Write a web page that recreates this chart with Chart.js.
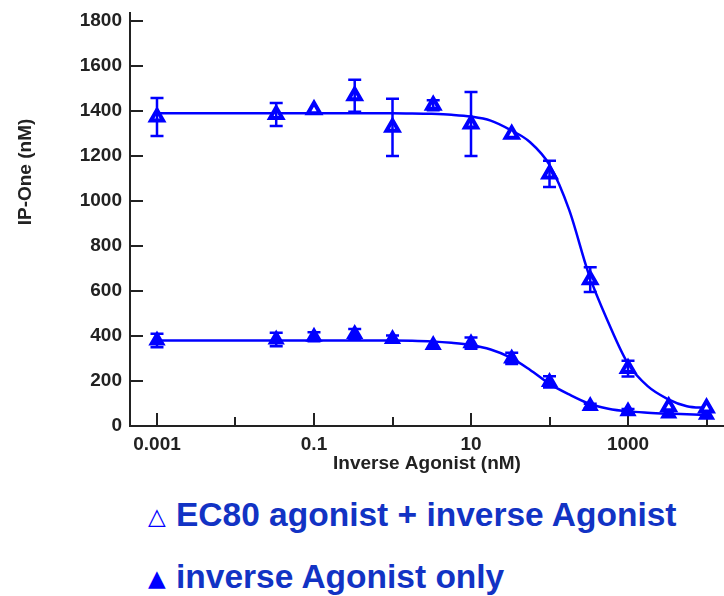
<!DOCTYPE html>
<html>
<head>
<meta charset="utf-8">
<script src="https://cdn.jsdelivr.net/npm/chart.js@4.4.1/dist/chart.umd.min.js"></script>
<style>
  body { margin: 0; background: #fff; }
  #wrap { position: relative; width: 724px; height: 596px; }
  #chart { position: absolute; left: 0; top: 0; }
  .legend {
    position: absolute;
    left: 148px;
    font: bold 33.5px "Liberation Sans", Arial, sans-serif;
    line-height: 40px;
    color: #1233c4;
    white-space: nowrap;
  }
  .legend .mark {
    display: inline-block;
    position: relative;
    top: -2px;
    width: 28px;
    font: 23px "DejaVu Sans", sans-serif;
    color: #0000ff;
  }
</style>
</head>
<body>
<div id="wrap">
  <canvas id="chart" width="724" height="480"></canvas>
  <div class="legend" style="top:495px"><span class="mark">△</span>EC80 agonist + inverse Agonist</div>
  <div class="legend" style="top:557px"><span class="mark">▲</span>inverse Agonist only</div>
</div>
<script>
// ---- data ----
const doses = [0.001, 0.033, 0.1, 0.33, 1, 3.3, 10, 33, 100, 330, 1000, 3300, 10000];

// EC80 agonist + inverse agonist (open triangles)
const withAgonistMean = [1373, 1384, 1405, 1467, 1327, 1425, 1342, 1296, 1120, 650, 255, 85, 80];
const withAgonistErr  = [84, 51, 0, 71, 127, 22, 142, 0, 58, 55, 35, 0, 0];

// inverse agonist only (filled triangles)
const aloneMean = [380, 384, 396, 409, 387, 360, 368, 300, 196, 89, 65, 55, 50];
const aloneErr  = [30, 30, 20, 22, 15, 0, 25, 25, 25, 10, 10, 0, 0];

// fitted curves
const curveDoses     = [0.001, 0.1, 1, 1.78, 3.16, 5.62, 10, 17.8, 31.6, 56.2, 100, 178, 316, 562, 1000, 1778, 3162, 5623, 10000];
const withAgonistFit = [1390, 1390, 1390, 1389, 1387, 1383, 1375, 1357, 1316, 1262, 1160, 960, 675, 460, 277, 177, 121, 88, 80];
const aloneFit       = [380, 380, 380, 379, 376, 370, 360, 340, 305, 250, 187, 140, 100, 77, 65, 59, 55, 52, 49];

const xTickValues = [0.001, 0.01, 0.1, 1, 10, 100, 1000, 10000];
const xTickLabels = ['0.001', '', '0.1', '', '10', '', '1000', ''];
const yTickValues = [0, 200, 400, 600, 800, 1000, 1200, 1400, 1600, 1800];

const BLUE = '#0000ff';
const INK = '#222';
const FONT = '"Liberation Sans", Arial, sans-serif';

const toPoints = (xs, ys) => xs.map((x, i) => ({ x: x, y: ys[i] }));

// error bars on top of the markers
const errorBars = {
    id: 'errorBars',
    afterDatasetsDraw(chart) {
        const { ctx, scales: { x, y } } = chart;
        chart.data.datasets.forEach(ds => {
            if (!ds.errors) return;
            ctx.save();
            ctx.strokeStyle = BLUE;
            ctx.lineWidth = 2.5;
            ds.data.forEach((p, i) => {
                const e = ds.errors[i];
                if (!e) return;
                const px = x.getPixelForValue(p.x);
                const top = y.getPixelForValue(p.y + e);
                const bot = y.getPixelForValue(p.y - e);
                ctx.beginPath();
                ctx.moveTo(px, top); ctx.lineTo(px, bot);
                ctx.moveTo(px - 6.5, top); ctx.lineTo(px + 6.5, top);
                ctx.moveTo(px - 6.5, bot); ctx.lineTo(px + 6.5, bot);
                ctx.stroke();
            });
            ctx.restore();
        });
    }
};

// tick marks pointing into the plot, plus the rotated y title
const axisDecor = {
    id: 'axisDecor',
    beforeDatasetsDraw(chart) {
        const { ctx, scales: { x, y } } = chart;
        ctx.save();
        ctx.strokeStyle = INK;
        ctx.lineWidth = 2;
        ctx.beginPath();
        x.ticks.forEach((t, i) => {
            const px = Math.round(x.getPixelForValue(t.value));
            const len = xTickLabels[i] ? 13 : 9;
            ctx.moveTo(px, x.top);
            ctx.lineTo(px, x.top - len);
        });
        y.ticks.forEach(t => {
            const py = Math.round(y.getPixelForValue(t.value));
            ctx.moveTo(y.right, py);
            ctx.lineTo(y.right + 13, py);
        });
        ctx.stroke();
        ctx.restore();
    },
    afterDraw(chart) {
        const ctx = chart.ctx;
        ctx.save();
        ctx.translate(26, 172);
        ctx.rotate(-Math.PI / 2);
        ctx.font = 'bold 19px ' + FONT;
        ctx.fillStyle = INK;
        ctx.textAlign = 'center';
        ctx.textBaseline = 'middle';
        ctx.fillText('IP-One (nM)', 0, 0);
        ctx.restore();
    }
};

new Chart(document.getElementById('chart'), {
    type: 'scatter',
    data: {
        datasets: [
            {
                label: 'EC80 agonist + inverse Agonist',
                data: toPoints(doses, withAgonistMean),
                errors: withAgonistErr,
                pointStyle: 'triangle',
                pointRadius: 7,
                borderWidth: 4,
                borderColor: BLUE,
                backgroundColor: '#fff',
                showLine: false,
                order: 0
            },
            {
                label: 'inverse Agonist only',
                data: toPoints(doses, aloneMean),
                errors: aloneErr,
                pointStyle: 'triangle',
                pointRadius: 8,
                borderWidth: 2,
                borderColor: BLUE,
                backgroundColor: BLUE,
                showLine: false,
                order: 0
            },
            {
                label: 'fit EC80',
                data: toPoints(curveDoses, withAgonistFit),
                showLine: true,
                pointRadius: 0,
                borderColor: BLUE,
                borderWidth: 2.5,
                cubicInterpolationMode: 'monotone',
                order: 1
            },
            {
                label: 'fit alone',
                data: toPoints(curveDoses, aloneFit),
                showLine: true,
                pointRadius: 0,
                borderColor: BLUE,
                borderWidth: 2.5,
                cubicInterpolationMode: 'monotone',
                order: 1
            }
        ]
    },
    options: {
        responsive: false,
        animation: false,
        devicePixelRatio: 1,
        layout: { autoPadding: false, padding: { top: 13, right: 0, bottom: 0, left: 0 } },
        plugins: {
            legend: { display: false },
            tooltip: { enabled: false }
        },
        scales: {
            x: {
                type: 'logarithmic',
                min: 0.000453,
                max: 16700,
                afterBuildTicks: scale => {
                    scale.ticks = xTickValues.map(v => ({ value: v }));
                },
                afterFit: scale => {
                    scale.height = 54;
                    scale.paddingLeft = 0;
                    scale.paddingRight = 0;
                },
                grid: { display: false, drawTicks: false },
                border: { display: true, color: INK, width: 2 },
                ticks: {
                    autoSkip: false,
                    maxRotation: 0,
                    padding: 7,
                    color: INK,
                    font: { family: FONT, size: 19, weight: 'bold' },
                    callback: (value, index) => xTickLabels[index]
                },
                title: {
                    display: true,
                    text: 'Inverse Agonist (nM)',
                    color: INK,
                    font: { family: FONT, size: 19, weight: 'bold' },
                    padding: { top: 0, bottom: 5 }
                }
            },
            y: {
                min: 0,
                max: 1835,
                afterBuildTicks: scale => {
                    scale.ticks = yTickValues.map(v => ({ value: v }));
                },
                afterFit: scale => {
                    scale.width = 130;
                    scale.paddingTop = 0;
                    scale.paddingBottom = 0;
                },
                grid: { display: false, drawTicks: false },
                border: { display: true, color: INK, width: 2 },
                ticks: {
                    padding: 8,
                    color: INK,
                    font: { family: FONT, size: 19, weight: 'bold' },
                    callback: value => String(value)
                }
            }
        }
    },
    plugins: [errorBars, axisDecor]
});
</script>
</body>
</html>
